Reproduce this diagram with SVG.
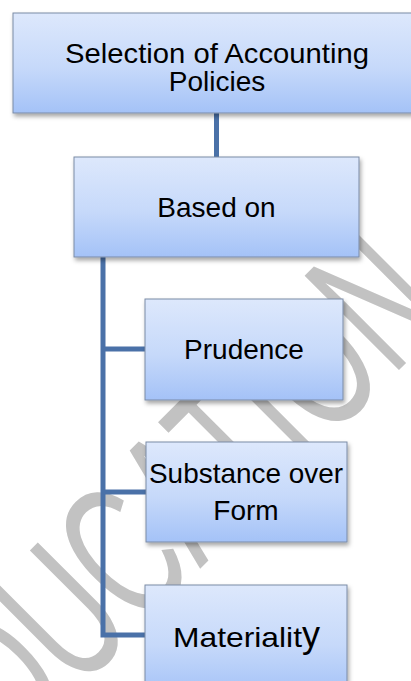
<svg xmlns="http://www.w3.org/2000/svg" width="411" height="681" viewBox="0 0 411 681">
  <defs>
    <linearGradient id="boxFill" x1="0" y1="0" x2="0" y2="1">
      <stop offset="0" stop-color="#dde8fc"/>
      <stop offset="0.55" stop-color="#c6d9fa"/>
      <stop offset="1" stop-color="#a4c2f7"/>
    </linearGradient>
    <filter id="shadow" x="-10%" y="-10%" width="125%" height="130%">
      <feDropShadow dx="1.5" dy="3" stdDeviation="2" flood-color="#000" flood-opacity="0.35"/>
    </filter>
    <clipPath id="page">
      <rect width="411" height="681"/>
    </clipPath>
  </defs>
  <style>
    .box { fill: url(#boxFill); stroke: #7b8ba6; stroke-width: 1; filter: url(#shadow); }
    .label { font-family: "Liberation Sans", Arial, sans-serif; font-size: 28px; fill: #000; text-anchor: middle; }
    .link { fill: none; stroke: #4a71a8; stroke-width: 5; stroke-linejoin: miter; }
    .mark { font-family: "Liberation Sans", Arial, sans-serif; font-size: 194px; fill: #c2c2c2; }
  </style>

  <rect width="411" height="681" fill="#fff"/>

  <!-- diagonal watermark behind everything -->
  <g id="watermark" clip-path="url(#page)">
    <text class="mark" transform="translate(-41,810) rotate(-45) scale(0.62,1)" x="0" y="0">EDUCATION</text>
  </g>

  <g id="connectors">
    <path class="link" d="M216.5,113 V157"/>
    <path class="link" d="M103,257 V635 H145"/>
    <path class="link" d="M103,349 H145"/>
    <path class="link" d="M103,492 H146"/>
  </g>

  <g id="node-selection">
    <rect class="box" x="13" y="13" width="420" height="100"/>
    <text class="label" x="217" y="63" textLength="304" lengthAdjust="spacingAndGlyphs">Selection of Accounting</text>
    <text class="label" x="217" y="91">Policies</text>
  </g>

  <g id="node-based-on">
    <rect class="box" x="74" y="157" width="285" height="100"/>
    <text class="label" x="216.5" y="217">Based on</text>
  </g>

  <g id="node-prudence">
    <rect class="box" x="145" y="299" width="198" height="101"/>
    <text class="label" x="244" y="359">Prudence</text>
  </g>

  <g id="node-substance">
    <rect class="box" x="146" y="442" width="201" height="100"/>
    <text class="label" x="246" y="483" textLength="194" lengthAdjust="spacingAndGlyphs">Substance over</text>
    <text class="label" x="246" y="520">Form</text>
  </g>

  <g id="node-materiality">
    <rect class="box" x="145" y="585" width="202" height="110"/>
    <text class="label" x="173" y="647" style="text-anchor:start" textLength="129" lengthAdjust="spacingAndGlyphs">Materialit</text>
    <text class="label" x="302" y="647" style="text-anchor:start;font-size:36px">y</text>
  </g>
</svg>
